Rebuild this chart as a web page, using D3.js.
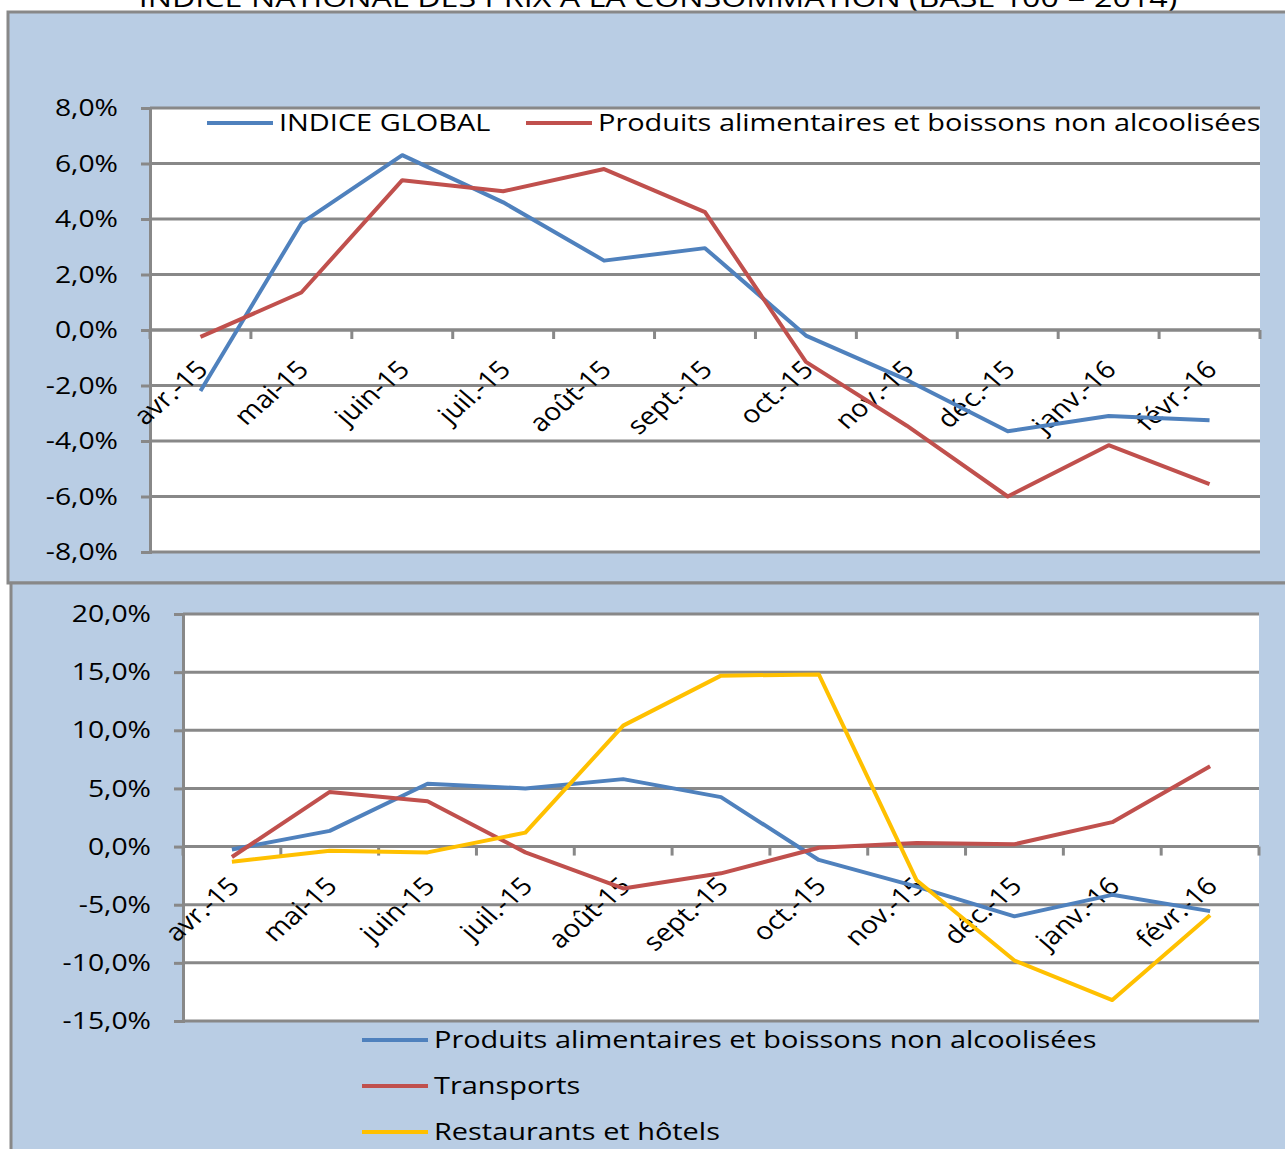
<!DOCTYPE html>
<html>
<head>
<meta charset="utf-8">
<script src="https://cdn.jsdelivr.net/npm/d3@7"></script>
<style>
  body { margin: 0; background: #fff; }
  svg { display: block; font-family: "Open Sans", sans-serif; }
</style>
</head>
<body>
<div id="chart"></div>
<script>
const title = "INDICE NATIONAL DES PRIX A LA CONSOMMATION (BASE 100 = 2014)";
const months = ["avr.-15", "mai-15", "juin-15", "juil.-15", "août-15", "sept.-15",
  "oct.-15", "nov.-15", "déc.-15", "janv.-16", "févr.-16"];

// variation en %
const indiceGlobal = [-2.2, 3.85, 6.3, 4.6, 2.5, 2.95, -0.2, -1.8, -3.65, -3.1, -3.25];
const alimentaires = [-0.25, 1.35, 5.4, 5.0, 5.8, 4.25, -1.15, -3.45, -6.0, -4.15, -5.55];
const transports = [-0.9, 4.7, 3.9, -0.5, -3.6, -2.3, -0.1, 0.3, 0.2, 2.1, 6.9];
const restaurants = [-1.3, -0.35, -0.5, 1.2, 10.4, 14.7, 14.8, -2.9, -9.8, -13.2, -5.9];

const topTicks = [-8, -6, -4, -2, 0, 2, 4, 6, 8];
const bottomTicks = [-15, -10, -5, 0, 5, 10, 15, 20];

const W = 1285, H = 1149;
const STRETCH = 1.18; // the picture is wider than tall, text included
const blue = "#4F81BD", red = "#C0504D", yellow = "#FFC000";
const panelFill = "#B9CDE4", gridColor = "#888888";
const fmt = d => d3.format(".1f")(d).replace(".", ",").replace("\u2212", "-") + "%";

const svg = d3.select("#chart").append("svg")
  .attr("width", W)
  .attr("height", H);

svg.append("text")
  .attr("transform", `translate(658,7) scale(1.24,1)`)
  .attr("text-anchor", "middle")
  .attr("font-size", 26)
  .text(title);

// the two blue panels
svg.append("rect")
  .attr("x", 8).attr("y", 12)
  .attr("width", W).attr("height", 571)
  .attr("fill", panelFill)
  .attr("stroke", gridColor)
  .attr("stroke-width", 3);

svg.append("rect")
  .attr("x", 11).attr("y", 583)
  .attr("width", W).attr("height", H)
  .attr("fill", panelFill)
  .attr("stroke", gridColor)
  .attr("stroke-width", 3);

function drawChart(o) {
  const x = d3.scaleBand().domain(months).range([o.left, o.right]).padding(0);
  const y = d3.scaleLinear().domain(o.domain).range([o.bottom, o.top]);
  const cx = m => x(m) + x.bandwidth() / 2;
  const g = svg.append("g");

  g.append("rect")
    .attr("x", o.left).attr("y", o.top)
    .attr("width", o.right - o.left).attr("height", o.bottom - o.top)
    .attr("fill", "#fff");

  g.selectAll(".grid")
    .data(o.ticks)
    .enter()
    .append("line")
    .attr("class", "grid")
    .attr("x1", o.left).attr("x2", o.right)
    .attr("y1", d => y(d)).attr("y2", d => y(d))
    .attr("stroke", gridColor)
    .attr("stroke-width", 3);

  const yAxis = g.append("g")
    .attr("transform", `translate(${o.left},0)`)
    .call(d3.axisLeft(y).tickValues(o.ticks).tickSize(9).tickPadding(0).tickFormat(fmt));
  yAxis.select(".domain").attr("stroke", gridColor).attr("stroke-width", 3);
  yAxis.selectAll(".tick line").attr("stroke", gridColor).attr("stroke-width", 3);
  yAxis.selectAll(".tick text")
    .attr("x", null)
    .attr("transform", `translate(${-9 - o.tickPad},0) scale(${STRETCH},1)`)
    .attr("font-family", "Open Sans")
    .attr("font-size", 24)
    .attr("fill", "#000");

  // category axis on the zero line, ticks between categories
  const y0 = y(0);
  g.append("line")
    .attr("x1", o.left).attr("x2", o.right)
    .attr("y1", y0).attr("y2", y0)
    .attr("stroke", gridColor)
    .attr("stroke-width", 3);

  g.selectAll(".xtick")
    .data(months.map(m => x(m)).concat([o.right]))
    .enter()
    .append("line")
    .attr("class", "xtick")
    .attr("x1", d => d).attr("x2", d => d)
    .attr("y1", y0).attr("y2", y0 + 9)
    .attr("stroke", gridColor)
    .attr("stroke-width", 3);

  g.selectAll(".xlabel")
    .data(months)
    .enter()
    .append("text")
    .attr("class", "xlabel")
    .attr("transform", d => `translate(${cx(d) + 9},${y0 + 41}) scale(1.16,1) rotate(-45)`)
    .attr("text-anchor", "end")
    .attr("font-size", 24.5)
    .text(d => d);

  const line = d3.line()
    .x((d, i) => cx(months[i]))
    .y(d => y(d));

  o.series.forEach(s => {
    g.append("path")
      .datum(s.values)
      .attr("d", line)
      .attr("fill", "none")
      .attr("stroke", s.color)
      .attr("stroke-width", 4)
      .attr("stroke-linejoin", "round");
  });
}

function legendItem(x1, yy, color, label) {
  svg.append("line")
    .attr("x1", x1).attr("x2", x1 + 66)
    .attr("y1", yy).attr("y2", yy)
    .attr("stroke", color)
    .attr("stroke-width", 4);
  svg.append("text")
    .attr("transform", `translate(${x1 + 72},${yy}) scale(1.205,1)`)
    .attr("dy", "0.35em")
    .attr("font-size", 24)
    .text(label);
}

drawChart({
  left: 150, right: 1260, top: 108, bottom: 552,
  domain: [-8, 8], ticks: topTicks, tickPad: 23,
  series: [
    { values: indiceGlobal, color: blue },
    { values: alimentaires, color: red }
  ]
});

legendItem(207, 123, blue, "INDICE GLOBAL");
legendItem(526, 123, red, "Produits alimentaires et boissons non alcoolisées");

drawChart({
  left: 183, right: 1259, top: 614, bottom: 1021,
  domain: [-15, 20], ticks: bottomTicks, tickPad: 23,
  series: [
    { values: alimentaires, color: blue },
    { values: transports, color: red },
    { values: restaurants, color: yellow }
  ]
});

legendItem(362, 1040, blue, "Produits alimentaires et boissons non alcoolisées");
legendItem(362, 1086, red, "Transports");
legendItem(362, 1132, yellow, "Restaurants et hôtels");
</script>
</body>
</html>
